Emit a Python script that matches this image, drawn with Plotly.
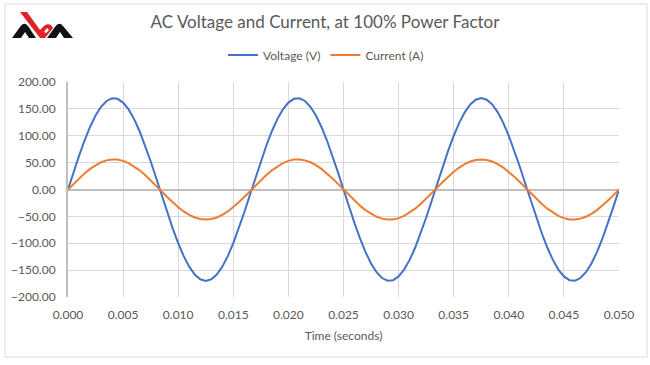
import plotly.graph_objects as go

time_s = [round(0.0005 * k, 4) for k in range(101)]
voltage_v = [0.0, 31.9, 62.6, 91.1, 116.4, 137.5, 153.8, 164.7, 169.7, 168.7,
             161.7, 149.0, 131.0, 108.4, 81.9, 52.5, 21.3, -10.7, -42.3, -72.4,
             -99.9, -123.9, -143.5, -158.1, -167.0, -170.0, -167.0, -158.1, -143.5, -123.9,
             -99.9, -72.4, -42.3, -10.7, 21.3, 52.5, 81.9, 108.4, 131.0, 149.0,
             161.7, 168.7, 169.7, 164.7, 153.8, 137.5, 116.4, 91.1, 62.6, 31.9,
             0.0, -31.9, -62.6, -91.1, -116.4, -137.5, -153.8, -164.7, -169.7, -168.7,
             -161.7, -149.0, -131.0, -108.4, -81.9, -52.5, -21.3, 10.7, 42.3, 72.4,
             99.9, 123.9, 143.5, 158.1, 167.0, 170.0, 167.0, 158.1, 143.5, 123.9,
             99.9, 72.4, 42.3, 10.7, -21.3, -52.5, -81.9, -108.4, -131.0, -149.0,
             -161.7, -168.7, -169.7, -164.7, -153.8, -137.5, -116.4, -91.1, -62.6, -31.9,
             0.0]
current_a = [0.0, 10.5, 20.6, 30.0, 38.3, 45.3, 50.7, 54.2, 55.9, 55.6,
             53.3, 49.1, 43.1, 35.7, 27.0, 17.3, 7.0, -3.5, -13.9, -23.8,
             -32.9, -40.8, -47.3, -52.1, -55.0, -56.0, -55.0, -52.1, -47.3, -40.8,
             -32.9, -23.8, -13.9, -3.5, 7.0, 17.3, 27.0, 35.7, 43.1, 49.1,
             53.3, 55.6, 55.9, 54.2, 50.7, 45.3, 38.3, 30.0, 20.6, 10.5,
             0.0, -10.5, -20.6, -30.0, -38.3, -45.3, -50.7, -54.2, -55.9, -55.6,
             -53.3, -49.1, -43.1, -35.7, -27.0, -17.3, -7.0, 3.5, 13.9, 23.8,
             32.9, 40.8, 47.3, 52.1, 55.0, 56.0, 55.0, 52.1, 47.3, 40.8,
             32.9, 23.8, 13.9, 3.5, -7.0, -17.3, -27.0, -35.7, -43.1, -49.1,
             -53.3, -55.6, -55.9, -54.2, -50.7, -45.3, -38.3, -30.0, -20.6, -10.5,
             0.0]
x_ticks = [0.000, 0.005, 0.010, 0.015, 0.020, 0.025, 0.030, 0.035, 0.040, 0.045, 0.050]
y_ticks = [-200, -150, -100, -50, 0, 50, 100, 150, 200]

W, H = 650, 365
L, R, T, B = 68, 31, 82, 68
PW, PH = W - L - R, H - T - B

def px(x, y):
    return (x - L) / PW, (H - B - y) / PH

def path(cmds):
    # cmds: list of (letter, [(x,y),...]) in pixel coords
    s = ""
    for letter, pts in cmds:
        s += letter
        s += " ".join(f"{px(x, y)[0]:.4f},{px(x, y)[1]:.4f}" for x, y in pts) + " "
    return s + "Z"

FONT = "Lato, 'Open Sans', sans-serif"
TXT = "#595959"

fig = go.Figure()
fig.add_trace(go.Scatter(x=time_s, y=voltage_v, mode="lines", name="Voltage (V)",
                         line=dict(color="#4472C4", width=2)))
fig.add_trace(go.Scatter(x=time_s, y=current_a, mode="lines", name="Current (A)",
                         line=dict(color="#ED7D31", width=2)))

shapes = []
# outer chart border
x0, y0 = px(5, 4)
x1, y1 = px(647, 357)
shapes.append(dict(type="rect", xref="paper", yref="paper", x0=x0, y0=y0, x1=x1, y1=y1,
                   line=dict(color="#D9D9D9", width=1), fillcolor="rgba(0,0,0,0)", layer="below"))
# logo (approximate)
logo = [
    ([("M", [(12, 38)]), ("L", [(20, 27)]), ("Q", [(24, 21), (28, 26)]), ("L", [(36, 38)])], "#111111"),
    ([("M", [(21, 38)]), ("L", [(25, 32)]), ("L", [(29, 38)])], "#FFFFFF"),
    ([("M", [(20, 12)]), ("L", [(27, 12)]), ("L", [(40, 30)]), ("L", [(44, 26)]),
      ("Q", [(47, 23), (51, 25)]), ("L", [(53, 28)]), ("L", [(45, 38)]), ("L", [(40, 38)])], "#E02228"),
    ([("M", [(44, 32)]), ("L", [(47, 28)]), ("L", [(49, 30)]), ("L", [(46, 33)])], "#FFFFFF"),
    ([("M", [(47, 38)]), ("L", [(55, 27)]), ("Q", [(59, 21), (63, 26)]), ("L", [(73, 38)])], "#111111"),
    ([("M", [(56, 38)]), ("L", [(60, 32)]), ("L", [(64, 38)])], "#FFFFFF"),
]
for cmds, col in logo:
    shapes.append(dict(type="path", xref="paper", yref="paper", path=path(cmds),
                       fillcolor=col, line=dict(width=0)))

fig.update_layout(
    width=W, height=H,
    margin=dict(l=L, r=R, t=T, b=B),
    paper_bgcolor="white", plot_bgcolor="white",
    font=dict(family=FONT, color=TXT, size=12),
    title=dict(text="AC Voltage and Current, at 100% Power Factor",
               x=0.5, xanchor="center", y=1 - 22 / H, yanchor="middle",
               font=dict(size=17, color=TXT, family=FONT)),
    legend=dict(orientation="h", x=(326 - L) / PW, xanchor="center", y=1 + (T - 55) / PH, yanchor="middle",
                font=dict(size=12, color=TXT), bgcolor="rgba(0,0,0,0)", itemwidth=30),
    showlegend=True,
    shapes=shapes,
)
fig.update_xaxes(range=[0, 0.05], tickvals=x_ticks, tickformat=".3f",
                 showgrid=True, gridcolor="#D9D9D9", gridwidth=1,
                 zeroline=False, showline=False, ticks="",
                 ticklabelstandoff=9,
                 title=dict(text="Time (seconds)", font=dict(size=12, color=TXT), standoff=10),
                 tickfont=dict(size=12, color=TXT))
fig.update_yaxes(range=[-200, 200], tickvals=y_ticks, tickformat=".2f",
                 showgrid=True, gridcolor="#D9D9D9", gridwidth=1,
                 zeroline=True, zerolinecolor="#BFBFBF", zerolinewidth=2,
                 showline=True, linecolor="#BFBFBF", linewidth=2, ticks="",
                 ticklabelstandoff=8,
                 tickfont=dict(size=12, color=TXT))

fig.write_html("out.html", config={"displayModeBar": False},
               post_script="document.body.style.margin='0';")
